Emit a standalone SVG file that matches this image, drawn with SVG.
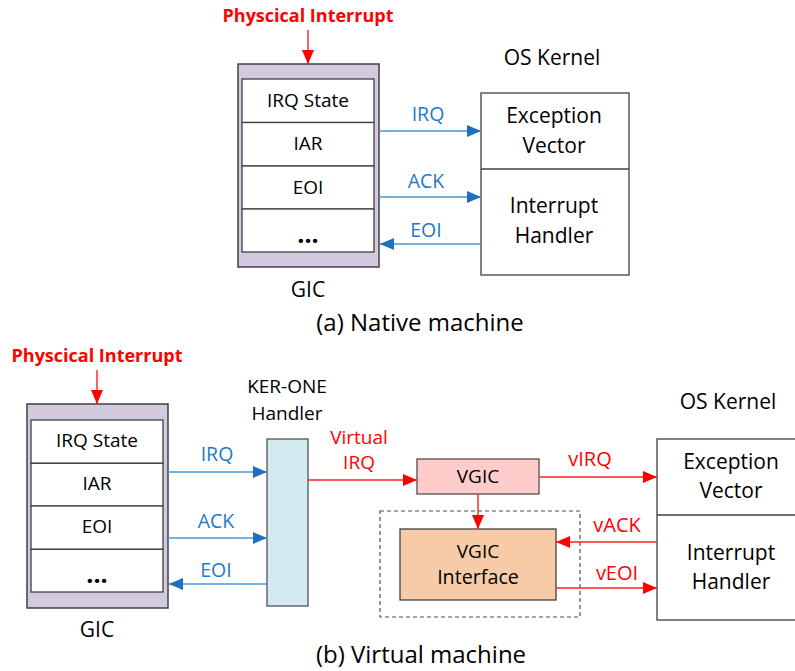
<svg xmlns="http://www.w3.org/2000/svg" width="795" height="671" viewBox="0 0 795 671">
<style>
text{font-family:"Open Sans","Liberation Sans",sans-serif;text-anchor:middle;fill:#000}
.lbl{font-size:19px}
.big{font-size:21px}
.dots{font-size:25px;font-weight:bold}
.cap{font-size:24px}
.blue{font-size:19.5px;fill:#1F78C8}
.red{font-size:20px;fill:#FF0000}
.phys{font-size:18px;font-weight:bold;fill:#FF0000}
.gic{fill:#D3CADF;stroke:#404040;stroke-width:1.5}
.cell{fill:#FFFFFF;stroke:#404040;stroke-width:1.3}
.box{fill:#FFFFFF;stroke:#404040;stroke-width:1.3}
.bl{stroke:#4A94D4;stroke-width:1.6;fill:none}
.rl{stroke:#FF2020;stroke-width:1.4;fill:none}
</style>
<defs>
<marker id="ab" viewBox="0 0 14 12" refX="14" refY="6" markerWidth="14" markerHeight="12" markerUnits="userSpaceOnUse" orient="auto"><path d="M0,0 L14,6 L0,12 z" fill="#1F70C1"/></marker>
<marker id="ar" viewBox="0 0 14 12" refX="14" refY="6" markerWidth="14" markerHeight="12" markerUnits="userSpaceOnUse" orient="auto"><path d="M0,0 L14,6 L0,12 z" fill="#FF0000"/></marker>
</defs>

<!-- (a) Native machine -->
<text class="phys" x="308" y="22">Physcical Interrupt</text>
<g id="gic-a">
<rect class="gic" x="238" y="64" width="141" height="203"/>
<rect class="cell" x="242" y="79" width="132" height="43.5"/>
<rect class="cell" x="242" y="122.5" width="132" height="43.5"/>
<rect class="cell" x="242" y="166" width="132" height="43"/>
<rect class="cell" x="242" y="209" width="132" height="43"/>
<text class="lbl" x="308" y="107">IRQ State</text>
<text class="lbl" x="308" y="150">IAR</text>
<text class="lbl" x="308" y="194">EOI</text>
<text class="dots" x="308" y="243">...</text>
<text class="big" x="308" y="297">GIC</text>
</g>
<g id="kernel-a">
<text class="big" x="552" y="65">OS Kernel</text>
<rect class="box" x="481" y="93" width="148" height="182"/>
<line x1="481" y1="169" x2="629" y2="169" stroke="#404040" stroke-width="1.3"/>
<text class="big" x="554" y="123">Exception</text>
<text class="big" x="554" y="153">Vector</text>
<text class="big" x="554" y="213">Interrupt</text>
<text class="big" x="554" y="243">Handler</text>
</g>
<text class="cap" x="420" y="331">(a) Native machine</text>

<!-- (b) Virtual machine -->
<text class="phys" x="97" y="362">Physcical Interrupt</text>
<g id="gic-b">
<rect class="gic" x="27" y="404" width="141" height="204"/>
<rect class="cell" x="31" y="420" width="132" height="43.3"/>
<rect class="cell" x="31" y="463.3" width="132" height="42.7"/>
<rect class="cell" x="31" y="506" width="132" height="43.3"/>
<rect class="cell" x="31" y="549.3" width="132" height="42.7"/>
<text class="lbl" x="97" y="447">IRQ State</text>
<text class="lbl" x="97" y="490">IAR</text>
<text class="lbl" x="97" y="533">EOI</text>
<text class="dots" x="97" y="583">...</text>
<text class="big" x="97" y="637">GIC</text>
</g>
<g id="kerone">
<text class="lbl" x="287" y="393">KER-ONE</text>
<text class="lbl" x="287" y="420">Handler</text>
<rect x="267" y="439" width="41" height="167" fill="#D2EAF0" stroke="#505050" stroke-width="1.3"/>
</g>
<g id="vgic">
<rect x="417" y="459" width="122" height="35" fill="#FFCCCC" stroke="#505050" stroke-width="1.3"/>
<text class="lbl" x="478" y="483">VGIC</text>
</g>
<g id="vgic-if">
<rect x="380" y="511" width="200" height="106" fill="none" stroke="#505050" stroke-width="1.2" stroke-dasharray="4,3"/>
<rect x="400" y="529" width="156" height="71" fill="#F8CBA8" stroke="#404040" stroke-width="1.3"/>
<text class="lbl" x="478" y="558">VGIC</text>
<text class="lbl" x="478" y="584" style="font-size:19.7px">Interface</text>
</g>
<g id="kernel-b">
<text class="big" x="728" y="409">OS Kernel</text>
<rect class="box" x="657" y="439" width="140" height="181"/>
<line x1="657" y1="515" x2="797" y2="515" stroke="#404040" stroke-width="1.3"/>
<text class="big" x="731" y="469">Exception</text>
<text class="big" x="731" y="498">Vector</text>
<text class="big" x="731" y="560">Interrupt</text>
<text class="big" x="731" y="589">Handler</text>
</g>
<text class="cap" x="421" y="663">(b) Virtual machine</text>

<g id="connectors">
<line class="rl" x1="308" y1="30" x2="308" y2="64" marker-end="url(#ar)"/>
<line class="bl" x1="379" y1="131" x2="481" y2="131" marker-end="url(#ab)"/>
<line class="bl" x1="379" y1="197" x2="481" y2="197" marker-end="url(#ab)"/>
<line class="bl" x1="481" y1="244" x2="380" y2="244" marker-end="url(#ab)"/>
<text class="blue" x="428" y="121">IRQ</text>
<text class="blue" x="426" y="188">ACK</text>
<text class="blue" x="426" y="237">EOI</text>

<line class="rl" x1="97" y1="370" x2="97" y2="404" marker-end="url(#ar)"/>
<line class="bl" x1="168" y1="472" x2="267" y2="472" marker-end="url(#ab)"/>
<line class="bl" x1="168" y1="538" x2="267" y2="538" marker-end="url(#ab)"/>
<line class="bl" x1="267" y1="584" x2="169" y2="584" marker-end="url(#ab)"/>
<text class="blue" x="217" y="461">IRQ</text>
<text class="blue" x="216" y="528">ACK</text>
<text class="blue" x="216" y="577">EOI</text>

<line class="rl" x1="308" y1="480" x2="417" y2="480" marker-end="url(#ar)"/>
<text class="red" x="359" y="444" style="font-size:19px">Virtual</text>
<text class="red" x="359" y="469" style="font-size:19px">IRQ</text>
<line class="rl" x1="539" y1="477" x2="657" y2="477" marker-end="url(#ar)"/>
<text class="red" x="590" y="466">vIRQ</text>
<line class="rl" x1="478" y1="494" x2="478" y2="529" marker-end="url(#ar)"/>
<line class="rl" x1="657" y1="542" x2="556" y2="542" marker-end="url(#ar)"/>
<text class="red" x="617" y="532">vACK</text>
<line class="rl" x1="556" y1="588" x2="657" y2="588" marker-end="url(#ar)"/>
<text class="red" x="617" y="580">vEOI</text>
</g>
</svg>
